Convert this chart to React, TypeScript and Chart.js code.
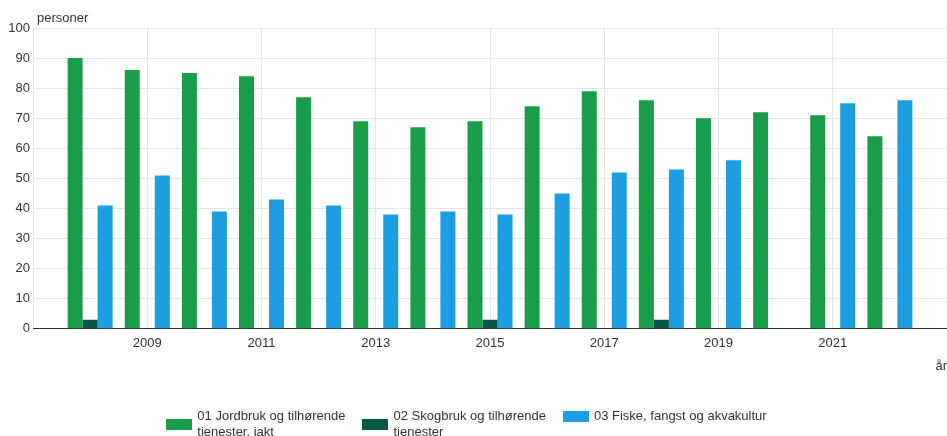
import React, { useEffect, useRef } from "react";
import { Chart, registerables } from "chart.js";

Chart.register(...registerables);

const years = [2008, 2009, 2010, 2011, 2012, 2013, 2014, 2015, 2016, 2017, 2018, 2019, 2020, 2021, 2022];
const jordbruk = [90, 86, 85, 84, 77, 69, 67, 69, 74, 79, 76, 70, 72, 71, 64];
const skogbruk = [3, null, null, null, null, null, null, 3, null, null, 3, null, null, null, null];
const fiske = [41, 51, 39, 43, 41, 38, 39, 38, 45, 52, 53, 56, null, 75, 76];
const xTickLabels = ["2009", "2011", "2013", "2015", "2017", "2019", "2021"];
const xMin = 2007;
const xMax = 2023;
const seriesNames = [
  ["01 Jordbruk og tilhørende", "tjenester, jakt"],
  ["02 Skogbruk og tilhørende", "tjenester"],
  ["03 Fiske, fangst og akvakultur"],
];
const seriesColors = ["#1a9d49", "#075745", "#1d9de2"];
const yTitle = "personer";
const xTitle = "år";

const FONT = "'Liberation Sans', Arial, sans-serif";
const TEXT = "#333333";

const toPoints = (vals: (number | null)[]) => years.map((y, i) => ({ x: y, y: vals[i] }));

const yTitlePlugin = {
  id: "yTitlePlugin",
  afterDraw(chart: any) {
    const { ctx, chartArea } = chart;
    ctx.save();
    ctx.font = `13px ${FONT}`;
    ctx.fillStyle = TEXT;
    ctx.textAlign = "left";
    ctx.textBaseline = "middle";
    ctx.fillText(yTitle, chartArea.left + 4, chartArea.top - 10);
    ctx.restore();
  },
};

const legendPlugin = {
  id: "wrapLegend",
  afterDraw(chart: any) {
    const { ctx, width } = chart;
    const boxW = 26;
    const boxH = 11;
    const gapText = 5;
    const gapItem = 17;
    const lineH = 16;
    const firstLineY = 416;
    ctx.save();
    ctx.font = `13px ${FONT}`;
    ctx.textBaseline = "middle";
    ctx.textAlign = "left";
    const items = chart.data.datasets.map((ds: any) => {
      const lines: string[] = ds.label.split("\n");
      const tw = Math.max(...lines.map((l) => ctx.measureText(l).width));
      return { lines, tw, color: ds.backgroundColor };
    });
    const total = items.reduce((a: number, it: any) => a + boxW + gapText + it.tw, 0) + gapItem * (items.length - 1);
    let x = width / 2 - 7 - total / 2;
    items.forEach((it: any) => {
      const blockMid = firstLineY + ((it.lines.length - 1) * lineH) / 2;
      ctx.fillStyle = it.color;
      ctx.fillRect(Math.round(x), Math.round(blockMid - boxH / 2), boxW, boxH);
      ctx.fillStyle = TEXT;
      it.lines.forEach((l: string, i: number) => {
        ctx.fillText(l, x + boxW + gapText, firstLineY + i * lineH);
      });
      x += boxW + gapText + it.tw + gapItem;
    });
    ctx.restore();
  },
};

export default function App() {
  const ref = useRef<HTMLCanvasElement | null>(null);
  useEffect(() => {
    if (!ref.current) return;
    const chart = new Chart(ref.current, {
      type: "bar",
      data: {
        datasets: [jordbruk, skogbruk, fiske].map((vals, i) => ({
          label: seriesNames[i].join("\n"),
          data: toPoints(vals) as any,
          backgroundColor: seriesColors[i],
          borderWidth: 0,
          categoryPercentage: 0.788,
          barPercentage: 1,
        })),
      },
      options: {
        animation: false,
        responsive: false,
        devicePixelRatio: 1,
        layout: { padding: { top: 28, left: 0, right: 0, bottom: 62 } },
        scales: {
          x: {
            type: "linear",
            min: xMin,
            max: xMax,
            offset: false,
            grid: { color: "#e6e6e6", drawTicks: false, offset: false },
            border: { display: true, color: "#333333", width: 1 },
            afterFit: (s: any) => {
              s.paddingLeft = 0;
              s.paddingRight = 0;
            },
            ticks: {
              stepSize: 2,
              padding: 7,
              color: TEXT,
              font: { family: FONT, size: 13 },
              maxRotation: 0,
              autoSkip: false,
              callback: (v: any) => (xTickLabels.includes(String(v)) ? String(v) : ""),
            },
            title: {
              display: true,
              text: xTitle,
              align: "end",
              color: TEXT,
              font: { family: FONT, size: 13 },
              padding: { top: 0, bottom: 0 },
            },
          },
          y: {
            min: 0,
            max: 100,
            grid: { color: "#e6e6e6", drawTicks: false },
            border: { display: false },
            afterFit: (s: any) => {
              s.width = 33;
            },
            ticks: {
              stepSize: 10,
              padding: 3,
              color: TEXT,
              font: { family: FONT, size: 13 },
            },
          },
        },
        plugins: {
          legend: { display: false },
          tooltip: { enabled: false },
        },
      },
      plugins: [yTitlePlugin, legendPlugin],
    });
    return () => chart.destroy();
  }, []);
  return (
    <div style={{ position: "fixed", left: 0, top: 0, width: 947, height: 436, overflow: "hidden", background: "#fff" }}>
      <canvas ref={ref} width={947} height={436} style={{ display: "block" }} />
    </div>
  );
}
